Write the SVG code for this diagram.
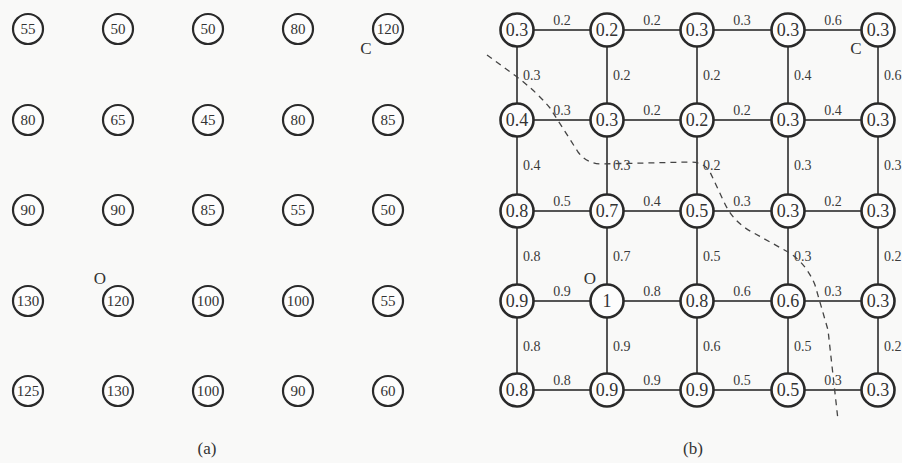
<svg xmlns="http://www.w3.org/2000/svg" width="902" height="463" viewBox="0 0 902 463">
<style>
.bg{fill:#f9f9f8}
.na circle{fill:#fdfdfd;stroke:#2a2a2a;stroke-width:2.2}
.nb circle{fill:#fdfdfd;stroke:#2a2a2a;stroke-width:2.6}
.na text{font-family:"Liberation Serif",serif;font-size:15px;fill:#333;text-anchor:middle}
.nb text{font-family:"Liberation Serif",serif;font-size:18px;fill:#333;text-anchor:middle}
.e line{stroke:#555;stroke-width:2}
.lbl{font-family:"Liberation Serif",serif;font-size:14px;fill:#3a3a3a}
.h{text-anchor:middle}
.v{text-anchor:start}
.cap{font-family:"Liberation Serif",serif;font-size:17px;fill:#333;text-anchor:middle}
.dash{fill:none;stroke:#444;stroke-width:1.3;stroke-dasharray:6 5}
</style>
<rect class="bg" x="0" y="0" width="902" height="463"/>

<!-- (a) grid -->
<g id="a-nodes">
<g id="a00" class="na"><circle cx="28" cy="29" r="15"/><text x="28" y="34">55</text></g>
<g id="a01" class="na"><circle cx="118" cy="29" r="15"/><text x="118" y="34">50</text></g>
<g id="a02" class="na"><circle cx="208" cy="29" r="15"/><text x="208" y="34">50</text></g>
<g id="a03" class="na"><circle cx="298" cy="29" r="15"/><text x="298" y="34">80</text></g>
<g id="a04" class="na"><circle cx="388" cy="29" r="15"/><text x="388" y="34">120</text></g>
<g id="a10" class="na"><circle cx="28" cy="120" r="15"/><text x="28" y="125">80</text></g>
<g id="a11" class="na"><circle cx="118" cy="120" r="15"/><text x="118" y="125">65</text></g>
<g id="a12" class="na"><circle cx="208" cy="120" r="15"/><text x="208" y="125">45</text></g>
<g id="a13" class="na"><circle cx="298" cy="120" r="15"/><text x="298" y="125">80</text></g>
<g id="a14" class="na"><circle cx="388" cy="120" r="15"/><text x="388" y="125">85</text></g>
<g id="a20" class="na"><circle cx="28" cy="210" r="15"/><text x="28" y="215">90</text></g>
<g id="a21" class="na"><circle cx="118" cy="210" r="15"/><text x="118" y="215">90</text></g>
<g id="a22" class="na"><circle cx="208" cy="210" r="15"/><text x="208" y="215">85</text></g>
<g id="a23" class="na"><circle cx="298" cy="210" r="15"/><text x="298" y="215">55</text></g>
<g id="a24" class="na"><circle cx="388" cy="210" r="15"/><text x="388" y="215">50</text></g>
<g id="a30" class="na"><circle cx="28" cy="301" r="15"/><text x="28" y="306">130</text></g>
<g id="a31" class="na"><circle cx="118" cy="301" r="15"/><text x="118" y="306">120</text></g>
<g id="a32" class="na"><circle cx="208" cy="301" r="15"/><text x="208" y="306">100</text></g>
<g id="a33" class="na"><circle cx="298" cy="301" r="15"/><text x="298" y="306">100</text></g>
<g id="a34" class="na"><circle cx="388" cy="301" r="15"/><text x="388" y="306">55</text></g>
<g id="a40" class="na"><circle cx="28" cy="391" r="15"/><text x="28" y="396">125</text></g>
<g id="a41" class="na"><circle cx="118" cy="391" r="15"/><text x="118" y="396">130</text></g>
<g id="a42" class="na"><circle cx="208" cy="391" r="15"/><text x="208" y="396">100</text></g>
<g id="a43" class="na"><circle cx="298" cy="391" r="15"/><text x="298" y="396">90</text></g>
<g id="a44" class="na"><circle cx="388" cy="391" r="15"/><text x="388" y="396">60</text></g>
</g>
<text class="cap" x="366" y="54">C</text>
<text class="cap" x="100" y="284">O</text>
<text class="cap" x="207" y="454">(a)</text>

<!-- (b) grid connectors -->
<g id="connectors" class="e">
<line x1="517" y1="30" x2="878" y2="30"/>
<line x1="517" y1="120" x2="878" y2="120"/>
<line x1="517" y1="211" x2="878" y2="211"/>
<line x1="517" y1="301" x2="878" y2="301"/>
<line x1="517" y1="390" x2="878" y2="390"/>
<line x1="517" y1="30" x2="517" y2="390"/>
<line x1="607" y1="30" x2="607" y2="390"/>
<line x1="697" y1="30" x2="697" y2="390"/>
<line x1="788" y1="30" x2="788" y2="390"/>
<line x1="878" y1="30" x2="878" y2="390"/>
</g>

<g id="edge-labels" class="lbl">
<text class="h" x="562" y="25">0.2</text>
<text class="h" x="652" y="25">0.2</text>
<text class="h" x="742" y="25">0.3</text>
<text class="h" x="833" y="25">0.6</text>
<text class="h" x="562" y="115">0.3</text>
<text class="h" x="652" y="115">0.2</text>
<text class="h" x="742" y="115">0.2</text>
<text class="h" x="833" y="115">0.4</text>
<text class="h" x="562" y="206">0.5</text>
<text class="h" x="652" y="206">0.4</text>
<text class="h" x="742" y="206">0.3</text>
<text class="h" x="833" y="206">0.2</text>
<text class="h" x="562" y="296">0.9</text>
<text class="h" x="652" y="296">0.8</text>
<text class="h" x="742" y="296">0.6</text>
<text class="h" x="833" y="296">0.3</text>
<text class="h" x="562" y="385">0.8</text>
<text class="h" x="652" y="385">0.9</text>
<text class="h" x="742" y="385">0.5</text>
<text class="h" x="833" y="385">0.3</text>
<text class="v" x="523" y="80">0.3</text>
<text class="v" x="613" y="80">0.2</text>
<text class="v" x="703" y="80">0.2</text>
<text class="v" x="794" y="80">0.4</text>
<text class="v" x="884" y="80">0.6</text>
<text class="v" x="523" y="170">0.4</text>
<text class="v" x="613" y="170">0.3</text>
<text class="v" x="703" y="170">0.2</text>
<text class="v" x="794" y="170">0.3</text>
<text class="v" x="884" y="170">0.3</text>
<text class="v" x="523" y="261">0.8</text>
<text class="v" x="613" y="261">0.7</text>
<text class="v" x="703" y="261">0.5</text>
<text class="v" x="794" y="261">0.3</text>
<text class="v" x="884" y="261">0.2</text>
<text class="v" x="523" y="351">0.8</text>
<text class="v" x="613" y="351">0.9</text>
<text class="v" x="703" y="351">0.6</text>
<text class="v" x="794" y="351">0.5</text>
<text class="v" x="884" y="351">0.2</text>
</g>

<g id="b-nodes">
<g id="b00" class="nb"><circle cx="517" cy="30" r="16.5"/><text x="517" y="36">0.3</text></g>
<g id="b01" class="nb"><circle cx="607" cy="30" r="16.5"/><text x="607" y="36">0.2</text></g>
<g id="b02" class="nb"><circle cx="697" cy="30" r="16.5"/><text x="697" y="36">0.3</text></g>
<g id="b03" class="nb"><circle cx="788" cy="30" r="16.5"/><text x="788" y="36">0.3</text></g>
<g id="b04" class="nb"><circle cx="878" cy="30" r="16.5"/><text x="878" y="36">0.3</text></g>
<g id="b10" class="nb"><circle cx="517" cy="120" r="16.5"/><text x="517" y="126">0.4</text></g>
<g id="b11" class="nb"><circle cx="607" cy="120" r="16.5"/><text x="607" y="126">0.3</text></g>
<g id="b12" class="nb"><circle cx="697" cy="120" r="16.5"/><text x="697" y="126">0.2</text></g>
<g id="b13" class="nb"><circle cx="788" cy="120" r="16.5"/><text x="788" y="126">0.3</text></g>
<g id="b14" class="nb"><circle cx="878" cy="120" r="16.5"/><text x="878" y="126">0.3</text></g>
<g id="b20" class="nb"><circle cx="517" cy="211" r="16.5"/><text x="517" y="217">0.8</text></g>
<g id="b21" class="nb"><circle cx="607" cy="211" r="16.5"/><text x="607" y="217">0.7</text></g>
<g id="b22" class="nb"><circle cx="697" cy="211" r="16.5"/><text x="697" y="217">0.5</text></g>
<g id="b23" class="nb"><circle cx="788" cy="211" r="16.5"/><text x="788" y="217">0.3</text></g>
<g id="b24" class="nb"><circle cx="878" cy="211" r="16.5"/><text x="878" y="217">0.3</text></g>
<g id="b30" class="nb"><circle cx="517" cy="301" r="16.5"/><text x="517" y="307">0.9</text></g>
<g id="b31" class="nb"><circle cx="607" cy="301" r="16.5"/><text x="607" y="307">1</text></g>
<g id="b32" class="nb"><circle cx="697" cy="301" r="16.5"/><text x="697" y="307">0.8</text></g>
<g id="b33" class="nb"><circle cx="788" cy="301" r="16.5"/><text x="788" y="307">0.6</text></g>
<g id="b34" class="nb"><circle cx="878" cy="301" r="16.5"/><text x="878" y="307">0.3</text></g>
<g id="b40" class="nb"><circle cx="517" cy="390" r="16.5"/><text x="517" y="396">0.8</text></g>
<g id="b41" class="nb"><circle cx="607" cy="390" r="16.5"/><text x="607" y="396">0.9</text></g>
<g id="b42" class="nb"><circle cx="697" cy="390" r="16.5"/><text x="697" y="396">0.9</text></g>
<g id="b43" class="nb"><circle cx="788" cy="390" r="16.5"/><text x="788" y="396">0.5</text></g>
<g id="b44" class="nb"><circle cx="878" cy="390" r="16.5"/><text x="878" y="396">0.3</text></g>
</g>

<path class="dash" d="M487,55 L513,74 Q535,90 550,108 L578,152 Q586,163 600,164 L690,162 Q704,162 710,172 L724,202 Q733,222 752,232 L788,252 Q806,263 815,285 L828,330 L838,420"/>

<text class="cap" x="856" y="54">C</text>
<text class="cap" x="590" y="284">O</text>
<text class="cap" x="693" y="454">(b)</text>
</svg>
